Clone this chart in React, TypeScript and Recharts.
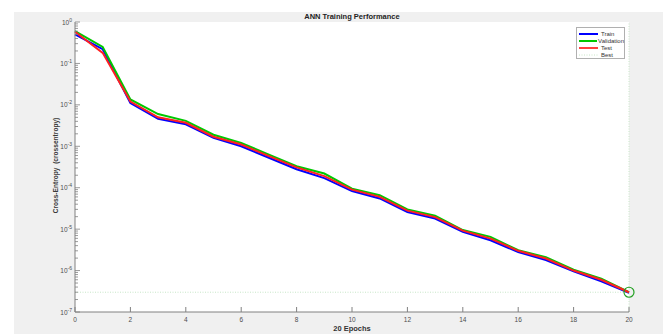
import React from 'react';
import { LineChart, Line, XAxis, YAxis, CartesianGrid, ReferenceLine, ReferenceDot } from 'recharts';

// epochs 0..20, values
const epochs = [0, 1, 2, 3, 4, 5, 6, 7, 8, 9, 10, 11, 12, 13, 14, 15, 16, 17, 18, 19, 20];
const trainLoss = [0.5, 0.22, 0.011, 0.0046, 0.0034, 0.0016, 0.001, 5.3e-4, 2.8e-4, 1.7e-4, 8.3e-5, 5.5e-5, 2.6e-5, 1.8e-5, 8.6e-6, 5.4e-6, 2.8e-6, 1.8e-6, 9.6e-7, 5.5e-7, 2.9e-7];
const valLoss = [0.6, 0.25, 0.0135, 0.006, 0.0041, 0.0019, 0.0012, 6.3e-4, 3.3e-4, 2.2e-4, 9.5e-5, 6.6e-5, 3e-5, 2.1e-5, 9.5e-6, 6.5e-6, 3.1e-6, 2.1e-6, 1.05e-6, 6.4e-7, 3e-7];
const testLoss = [0.58, 0.18, 0.012, 0.005, 0.0037, 0.0017, 0.0011, 5.8e-4, 3.1e-4, 1.9e-4, 9e-5, 6e-5, 2.8e-5, 1.95e-5, 9.2e-6, 5.9e-6, 3e-6, 1.95e-6, 1e-6, 6e-7, 3e-7];
const bestEpoch = 20;
const bestValue = 3e-7;

const xTicks = [0, 2, 4, 6, 8, 10, 12, 14, 16, 18, 20];
const yMajorExps = [-7, -6, -5, -4, -3, -2, -1, 0];
const yMinorMult = [2, 3, 4, 5, 6, 7, 8, 9];

const yTicks: number[] = [];
yMajorExps.forEach((e) => {
  yTicks.push(Math.pow(10, e));
  if (e < 0) yMinorMult.forEach((m) => yTicks.push(m * Math.pow(10, e)));
});

const data = epochs.map((ep, i) => ({ epoch: ep, train: trainLoss[i], val: valLoss[i], test: testLoss[i] }));

const FONT = '"Liberation Sans", Arial, sans-serif';
const AXIS = '#808080';
const TXT = '#4d4d4d';

const XTick = (props: any) => {
  const { x, y, payload } = props;
  return (
    <g>
      <line x1={x} x2={x} y1={y} y2={y - 5} stroke={AXIS} strokeWidth={1} />
      <text x={x} y={y + 10} textAnchor="middle" fontSize={6.5} fill={TXT} fontFamily={FONT}>{payload.value}</text>
    </g>
  );
};

const YTick = (props: any) => {
  const { x, y, payload } = props;
  const exp = Math.round(Math.log10(payload.value));
  const isMajor = Math.abs(payload.value / Math.pow(10, exp) - 1) < 1e-9;
  return (
    <g>
      <line x1={x} x2={x + (isMajor ? 5 : 3)} y1={y} y2={y} stroke={AXIS} strokeWidth={0.8} />
      {isMajor && (
        <text x={x - 3} y={y + 2.5} textAnchor="end" fontSize={6.5} fill={TXT} fontFamily={FONT}>
          10<tspan dy={-3} fontSize={5}>{exp}</tspan>
        </text>
      )}
    </g>
  );
};

const legendItems = [
  { name: 'Train', color: '#0000ff', dash: undefined as string | undefined, w: 2 },
  { name: 'Validation', color: '#00c800', dash: undefined, w: 2 },
  { name: 'Test', color: '#ff4040', dash: undefined, w: 2 },
  { name: 'Best', color: '#c8e6c8', dash: '1 1.5', w: 1 },
];

export default function App() {
  return (
    <div style={{ position: 'absolute', left: 0, top: 0, width: 667, height: 334, background: '#fff', overflow: 'hidden' }}>
      <div style={{ position: 'absolute', left: 14, top: 12, width: 649, height: 322, background: '#f0f0f0' }} />
      <div style={{ position: 'absolute', left: 0, top: 12, width: 704, textAlign: 'center', fontFamily: FONT, fontWeight: 'bold', fontSize: 7.5, color: '#222' }}>
        ANN Training Performance
      </div>
      <div style={{ position: 'absolute', left: 0, top: 0 }}>
        <LineChart width={667} height={334} data={data} margin={{ top: 22, right: 38, bottom: 0, left: 0 }}>
          <CartesianGrid horizontal={false} vertical={false} fill="#ffffff" />
          <XAxis
            dataKey="epoch"
            type="number"
            domain={[0, 20]}
            ticks={xTicks}
            interval={0}
            height={22}
            tickSize={0}
            tickMargin={0}
            tickLine={false}
            stroke={AXIS}
            tick={<XTick />}
          />
          <YAxis
            scale="log"
            type="number"
            domain={[1e-7, 1]}
            ticks={yTicks}
            interval={0}
            allowDataOverflow
            width={75}
            tickSize={0}
            tickMargin={0}
            tickLine={false}
            stroke={AXIS}
            tick={<YTick />}
          />
          <ReferenceLine y={bestValue} stroke="#c8e6c8" strokeDasharray="1 1.5" strokeWidth={1} />
          <ReferenceLine x={bestEpoch} stroke="#c8e6c8" strokeDasharray="1 1.5" strokeWidth={1} />
          <Line dataKey="train" stroke="#0000ff" strokeWidth={2} dot={false} isAnimationActive={false} />
          <Line dataKey="val" stroke="#00c800" strokeWidth={2} dot={false} isAnimationActive={false} />
          <Line dataKey="test" stroke="#ff2020" strokeWidth={2} dot={false} isAnimationActive={false} />
          <ReferenceDot x={bestEpoch} y={bestValue} r={5} fill="none" stroke="#22a022" strokeWidth={1.2} />
        </LineChart>
      </div>
      {/* axis titles */}
      <div style={{ position: 'absolute', left: 302, top: 324, width: 100, textAlign: 'center', fontFamily: FONT, fontWeight: 'bold', fontSize: 7.5, color: '#333' }}>
        20 Epochs
      </div>
      <div style={{ position: 'absolute', left: 55, top: 167, width: 0, height: 0 }}>
        <div style={{ position: 'absolute', left: -70, top: -5, width: 140, textAlign: 'center', transform: 'rotate(-90deg)', fontFamily: FONT, fontWeight: 'bold', fontSize: 6.6, color: '#3a3a3a', whiteSpace: 'pre' }}>
          {'Cross-Entropy  (crossentropy)'}
        </div>
      </div>
      {/* legend */}
      <div style={{ position: 'absolute', left: 576, top: 27, width: 49, height: 32, border: '1px solid #b0b0b0', background: '#fff', fontFamily: FONT, fontSize: 6, color: '#333', boxSizing: 'border-box', paddingTop: 2 }}>
        {legendItems.map((it) => (
          <div key={it.name} style={{ display: 'flex', alignItems: 'center', height: 7.2 }}>
            <svg width={22} height={6} style={{ marginLeft: 1 }}>
              <line x1={1} x2={20} y1={3} y2={3} stroke={it.color} strokeWidth={it.w} strokeDasharray={it.dash} />
            </svg>
            <span style={{ marginLeft: 1 }}>{it.name}</span>
          </div>
        ))}
      </div>
    </div>
  );
}
